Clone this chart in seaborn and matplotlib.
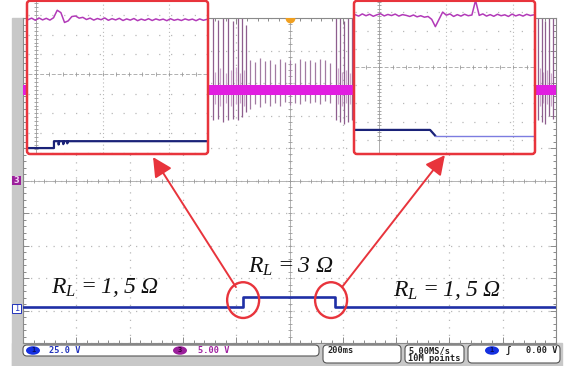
import numpy as np
import seaborn as sns
import matplotlib
matplotlib.use('Agg')
import matplotlib.pyplot as plt
from matplotlib.patches import Ellipse, FancyBboxPatch, Rectangle
from matplotlib.ticker import MultipleLocator

# ---- main screen: 200 ms/div, vertical values in divisions (10 x 10 grid) ----
ch1_time = [-1000, -174, 171, 1000]
ch1_div = [-3.89, -3.58, -3.89, -3.89]

ch3_span = [-1000, 1000]
ch3_center = 2.78
ch3_half = 0.15

# switching spikes on ch3: time (ms), top / bottom (div)
tall_t = [-287, -268, -250, -231, -212, -193, -178, -163, 175, 190, 205, 220, 235, 932, 946, 959, 973, 988]
tall_top = [5.0, 4.95, 5.0, 5.0, 4.9, 5.0, 5.0, 4.8, 5.0, 5.0, 4.9, 5.0, 5.0, 5.0, 5.0, 4.9, 5.0, 5.0]
tall_bot = [1.85, 1.9, 1.8, 1.85, 1.9, 1.85, 1.95, 2.1, 1.85, 1.8, 1.75, 1.8, 1.85, 1.85, 1.8, 1.75, 2.0, 1.9]
mid_t = [-278, -259, -240, -221, -202, -185, -170, 182, 197, 212, 227, 939, 953, 966, 980]
mid_top = [3.35, 3.45, 3.3, 3.4, 3.5, 3.3, 3.4, 3.45, 3.35, 3.4, 3.3, 3.45, 3.35, 3.4, 3.3]
mid_bot = [2.35, 2.3, 2.4, 2.3, 2.35, 2.4, 2.3, 2.35, 2.3, 2.4, 2.35, 2.3, 2.4, 2.35, 2.3]
small_t = [-148, -129, -110, -91, -73, -54, -35, -16, 3, 21, 40, 59, 78, 97, 115, 134, 153]
small_top = [3.72, 3.64, 3.76, 3.68, 3.7, 3.6, 3.74, 3.66, 3.7, 3.62, 3.75, 3.68, 3.72, 3.65, 3.74, 3.7, 3.63]
small_bot = [2.2, 2.35, 2.25, 2.4, 2.3, 2.38, 2.28, 2.42, 2.32, 2.4, 2.35, 2.45, 2.38, 2.42, 2.36, 2.44, 2.4]

labels = ['$R_L$\u2009=\u20091,\u20095 Ω', '$R_L$\u2009=\u20093 Ω', '$R_L$\u2009=\u20091,\u20095 Ω']
label_t = [-692, 6, 591]
label_div = [-3.46, -2.85, -3.55]

circle_t = [-174, 156]
circle_div = [-3.68, -3.68]
arrow_from = [(-201, -3.28), (197, -3.28)]
arrow_to = [(-512, 0.72), (583, 0.78)]

# ---- zoomed insets (own divisions) ----
ins1_mag = [2.76, 2.84, 2.73, 2.85, 2.75, 2.83, 2.74, 2.86, 3.24, 3.12, 2.62, 2.70, 2.92, 2.95, 2.84, 2.88,
            2.77, 2.84, 2.74, 2.82, 2.76, 2.85, 2.73, 2.81, 2.75, 2.83, 2.72, 2.80, 2.74, 2.82, 2.71, 2.79,
            2.73, 2.81, 2.72, 2.80, 2.74, 2.79, 2.71, 2.81, 2.73, 2.78, 2.72, 2.80, 2.74, 2.79, 2.71, 2.80,
            2.73, 2.78]
ins1_blue_x = [-0.12, 0.27, 0.27, 0.34, 0.34, 0.35, 0.41, 0.41, 0.42, 0.47, 0.47, 0.48, 2.57]
ins1_blue_y = [-3.76, -3.76, -3.41, -3.41, -3.58, -3.41, -3.41, -3.56, -3.41, -3.41, -3.52, -3.41, -3.41]

ins2_mag = [2.88, 2.80, 2.92, 2.82, 2.90, 2.79, 2.87, 2.93, 2.81, 2.89, 2.83, 2.91, 2.80, 2.88, 2.84, 2.78,
            2.86, 2.76, 2.82, 2.74, 2.78, 2.62, 2.22, 2.62, 3.02, 2.85, 2.92, 2.78, 2.88, 2.80, 2.90, 2.82,
            2.86, 3.66, 2.84, 2.92, 2.80, 2.88, 2.79, 2.90, 2.82, 2.87, 2.78, 2.91, 2.81, 2.88, 2.80, 2.90,
            2.83, 2.87]
ins2_dark_x = [-0.37, 0.76, 0.84]
ins2_dark_y = [-3.46, -3.46, -3.79]
ins2_light_x = [0.84, 2.32]
ins2_light_y = [-3.79, -3.79]

W, H = 566, 366
RED = '#e8343c'
GRAY = '#c8c8c8'
BLUE = '#1f2fa6'
MAG = '#e11ee1'

sns.set_style('white')
plt.rcParams['font.family'] = ['DejaVu Sans']
plt.rcParams['mathtext.fontset'] = 'custom'
plt.rcParams['mathtext.rm'] = 'Liberation Serif'
plt.rcParams['mathtext.it'] = 'Liberation Serif:italic'

fig = plt.figure(figsize=(W / 100, H / 100), dpi=100)
T = fig.dpi_scale_trans


def rect(x0, y0, x1, y1, **kw):
    return Rectangle((x0 / 100, (H - y1) / 100), (x1 - x0) / 100, (y1 - y0) / 100, transform=T, **kw)


def rbox(x0, y0, x1, y1, r=0.04, **kw):
    return FancyBboxPatch((x0 / 100, (H - y1) / 100), (x1 - x0) / 100, (y1 - y0) / 100,
                          boxstyle='round,pad=0,rounding_size=%s' % r, transform=T, **kw)


def axes_at(x0, y0, x1, y1):
    return fig.add_axes([x0 / W, 1 - y1 / H, (x1 - x0) / W, (y1 - y0) / H])


def ftext(x, y, s, **kw):
    fig.text(x / W, 1 - y / H, s, **kw)


fig.patches.extend([rect(12, 18, 23, 366, color=GRAY, zorder=-1),
                    rect(12, 343, 562, 366, color=GRAY, zorder=-1)])

# ---- main scope screen ----
ax = axes_at(23, 18, 556, 343)
ax.set_xlim(-1000, 1000)
ax.set_ylim(-5, 5)
ax.xaxis.set_major_locator(MultipleLocator(200))
ax.xaxis.set_minor_locator(MultipleLocator(40))
ax.yaxis.set_major_locator(MultipleLocator(1))
ax.yaxis.set_minor_locator(MultipleLocator(0.2))
ax.tick_params(which='both', direction='in', top=True, right=True, bottom=True, left=True,
               labelbottom=False, labelleft=False, color='#8a8a8a', width=0.7)
ax.tick_params(which='major', length=4)
ax.tick_params(which='minor', length=2)
ax.grid(True, which='major', color='#b8b8b8', lw=0.9, ls=(0, (1, 5)))
for s in ax.spines.values():
    s.set_color('#8a8a8a')
    s.set_linewidth(0.8)
ax.axhline(0, color='#a8a8a8', lw=0.6)
ax.axvline(0, color='#a8a8a8', lw=0.6)
ax.plot(np.arange(-1000, 1001, 40), np.zeros(51), ls='none', marker='|', ms=3, mew=0.6, color='#999999')
ax.plot(np.zeros(51), np.linspace(-5, 5, 51), ls='none', marker='_', ms=3, mew=0.6, color='#999999')

ax.vlines(mid_t, mid_bot, mid_top, color='#cfa9cf', lw=0.9, zorder=2)
ax.vlines(small_t, small_bot, small_top, color='#a27aa2', lw=0.9, zorder=2)
ax.vlines(tall_t, tall_bot, tall_top, color='#8e5e8e', lw=0.9, zorder=2)
ax.fill_between(ch3_span, ch3_center - ch3_half, ch3_center + ch3_half, color=MAG, lw=0, zorder=3)

sns.lineplot(x=ch1_time, y=ch1_div, ax=ax, color=BLUE, lw=1.9, drawstyle='steps-post',
             estimator=None, zorder=4)
ax.plot(0, 5, marker='o', ms=6, color='#f0a020', zorder=6)

for t, d in zip(circle_t, circle_div):
    ax.add_patch(Ellipse((t, d), 120, 1.1, fill=False, ec=RED, lw=1.7, zorder=7))
for (t0, d0), (t1, d1) in zip(arrow_from, arrow_to):
    ax.annotate('', xy=(t1, d1), xytext=(t0, d0), annotation_clip=False,
                arrowprops=dict(arrowstyle='-|>,head_length=0.65,head_width=0.33', color=RED,
                                lw=1.4, mutation_scale=18, shrinkA=0, shrinkB=0))
for s, t, d in zip(labels, label_t, label_div):
    ax.text(t, d, s, ha='center', va='baseline', fontsize=17, family=['Liberation Serif', 'DejaVu Serif'],
            style='italic', color='#111111', zorder=8)


# ---- insets ----
def inset(x0, x1, xlim, ylim):
    a = axes_at(x0 + 1, 1, x1 - 1, 153)
    a.set_zorder(5)
    a.set_xlim(xlim)
    a.set_ylim(ylim)
    a.set_facecolor('white')
    for s in a.spines.values():
        s.set_visible(False)
    a.set_xticks([1, 2])
    a.set_yticks([-4, -3, -2, -1, 1, 2, 3])
    a.tick_params(length=0, labelbottom=False, labelleft=False)
    a.grid(True, axis='x', color='#b8b8b8', lw=0.8, ls=(0, (1, 2.5)))
    a.grid(True, axis='y', color='#b8b8b8', lw=0.9, ls=(0, (1, 8.5)))
    a.axhline(0, color='#b0b0b0', lw=0.7, ls=(0, (4, 2)))
    a.axvline(0, color='#a0a0a0', lw=0.6)
    a.plot(np.zeros(41), np.linspace(-4, 4, 41), ls='none', marker='_', ms=3, mew=0.6, color='#9a9a9a')
    a.plot(np.linspace(-1, 3, 21), np.zeros(21), ls='none', marker='|', ms=3, mew=0.6, color='#9a9a9a')
    fig.patches.append(rbox(x0, 0.8, x1, 154, r=0.03, fc='none', ec=RED, lw=1.8, zorder=6))
    return a


a1 = inset(27, 208, (-0.12, 2.57), (-4.01, 3.71))
sns.lineplot(x=np.linspace(-0.12, 2.57, len(ins1_mag)), y=ins1_mag, ax=a1, color='#b23ab8', lw=1.1,
             estimator=None)
sns.lineplot(x=ins1_blue_x, y=ins1_blue_y, ax=a1, color='#1a2278', lw=1.6, estimator=None, sort=False)

a2 = inset(354, 535, (-0.36, 2.31), (-4.73, 3.63))
sns.lineplot(x=np.linspace(-0.36, 2.31, len(ins2_mag)), y=ins2_mag, ax=a2, color='#b23ab8', lw=1.1,
             estimator=None)
sns.lineplot(x=ins2_dark_x, y=ins2_dark_y, ax=a2, color='#1a2278', lw=1.6, estimator=None, sort=False)
sns.lineplot(x=ins2_light_x, y=ins2_light_y, ax=a2, color='#7c7ce0', lw=1.0, estimator=None, sort=False)

# ---- channel markers on the left ----
fig.patches.append(rect(12, 176, 21, 185, fc='#9b1f9b', ec='none', zorder=2))
ftext(16.5, 180.5, '3', ha='center', va='center', fontsize=6, color='#f0d0f0', weight='bold')
fig.patches.append(rect(12, 304, 21, 313, fc='white', ec='#2233bb', lw=0.7, zorder=2))
ftext(16.5, 308.5, '1', ha='center', va='center', fontsize=6, color='#2233bb')

# ---- status bar ----
mono = dict(family='DejaVu Sans Mono', fontsize=6.2, weight='bold', va='center')
fig.patches.append(rbox(23, 345, 319, 356, fc='white', ec='#555555', lw=0.8, zorder=2))
fig.patches.append(rbox(323, 345, 401, 363, fc='white', ec='#555555', lw=0.8, zorder=2))
fig.patches.append(rbox(405, 345, 464, 363, fc='white', ec='#555555', lw=0.8, zorder=2))
fig.patches.append(rbox(468, 345, 560, 363, fc='white', ec='#555555', lw=0.8, zorder=2))
for cx, col in [(33, '#1530e0'), (180, '#9b1f9b'), (492, '#1530e0')]:
    fig.patches.append(Ellipse((cx / 100, (H - 350.5) / 100), 0.14, 0.085, transform=T,
                               fc=col, ec='none', zorder=3))
ftext(33, 350.5, '1', ha='center', color='#0a1060', **dict(mono, fontsize=5))
ftext(180, 350.5, '3', ha='center', color='#3a003a', **dict(mono, fontsize=5))
ftext(492, 350.5, '1', ha='center', color='#0a1060', **dict(mono, fontsize=5))
ftext(49, 350.5, '25.0 V', color='#2233bb', **mono)
ftext(198, 350.5, '5.00 V', color='#a020a0', **mono)
ftext(327, 350.5, '200ms', color='#222222', **mono)
ftext(408, 350.5, '5.00MS/s', color='#222222', **mono)
ftext(408, 358.5, '10M points', color='#222222', **mono)
ftext(508, 350.5, 'ʃ', ha='center', color='#222222', **mono)
ftext(557, 350.5, '0.00 V', ha='right', color='#222222', **mono)

fig.savefig('out.png', dpi=100)
